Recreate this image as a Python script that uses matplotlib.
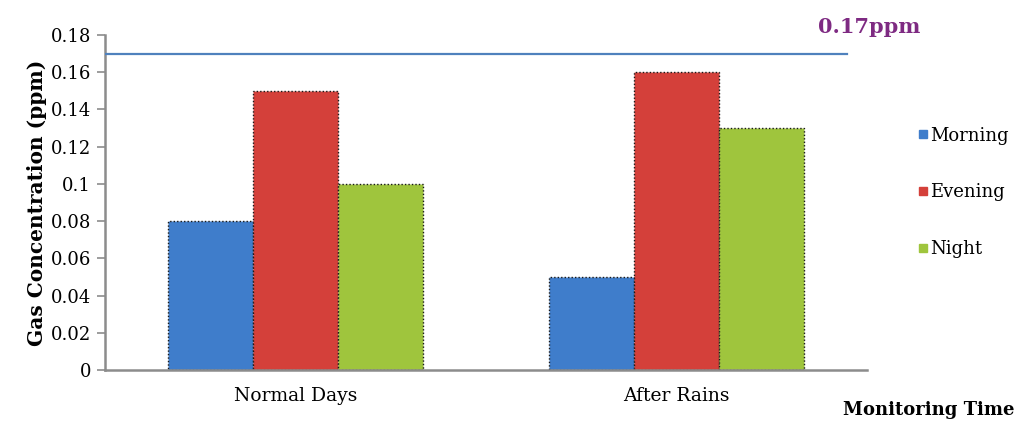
import matplotlib
matplotlib.use("Agg")
import matplotlib.pyplot as plt
import numpy as np
from matplotlib.lines import Line2D

# Data
categories = ["Normal Days", "After Rains"]
series_names = ["Morning", "Evening", "Night"]
morning = [0.08, 0.05]
evening = [0.15, 0.16]
night = [0.10, 0.13]
limit_value = 0.17
limit_label = "0.17ppm"
y_ticks = [0, 0.02, 0.04, 0.06, 0.08, 0.1, 0.12, 0.14, 0.16, 0.18]
y_tick_labels = ["0", "0.02", "0.04", "0.06", "0.08", "0.1", "0.12", "0.14", "0.16", "0.18"]

colors = ["#3F7DCB", "#D4403A", "#9FC53D"]
axis_grey = "#8C8C8C"

plt.rcParams["font.family"] = ["DejaVu Serif"]

fig = plt.figure(figsize=(10.21, 4.23), dpi=100)
ax = fig.add_axes([0.1028, 0.1253, 0.7463, 0.7920])

x = np.arange(len(categories))
width = 0.223
for i, (vals, c) in enumerate(zip([morning, evening, night], colors)):
    ax.bar(x + (i - 1) * width, vals, width, color=c, edgecolor="#1a1a1a",
           linewidth=1.0, linestyle=(0, (1, 1.5)), zorder=2)

ax.axhline(limit_value, xmin=0, xmax=0.974, color="#4F81BD", linewidth=1.6, zorder=3)

ax.set_xlim(-0.5, 1.5)
ax.set_ylim(0, 0.18)
ax.set_yticks(y_ticks)
ax.set_yticklabels(y_tick_labels, fontsize=13)
ax.set_xticks(x)
ax.set_xticklabels(categories, fontsize=13.5)
ax.tick_params(axis="x", length=0, pad=12)
ax.tick_params(axis="y", length=6, width=1.2, color=axis_grey, direction="out", pad=4)

for side in ["top", "right"]:
    ax.spines[side].set_visible(False)
for side in ["left", "bottom"]:
    ax.spines[side].set_color(axis_grey)
    ax.spines[side].set_linewidth(1.8)

ax.set_ylabel("Gas Concentration (ppm)", fontsize=14.5, fontweight="bold", labelpad=3)

fig.text(0.8512, 0.936, limit_label, fontsize=15, fontweight="bold",
         color="#7E2A82", ha="center", va="center")
fig.text(0.910, 0.031, "Monitoring Time", fontsize=13, fontweight="bold",
         ha="center", va="center")

handles = [Line2D([], [], marker="s", linestyle="none", markersize=6,
                  markerfacecolor=c, markeredgecolor=c) for c in colors]
fig.legend(handles, series_names, loc="center left", bbox_to_anchor=(0.899, 0.545),
           frameon=False, fontsize=13, handlelength=0.6, handletextpad=0.1,
           labelspacing=2.15, borderpad=0, borderaxespad=0)

fig.savefig("out.png", dpi=100)
